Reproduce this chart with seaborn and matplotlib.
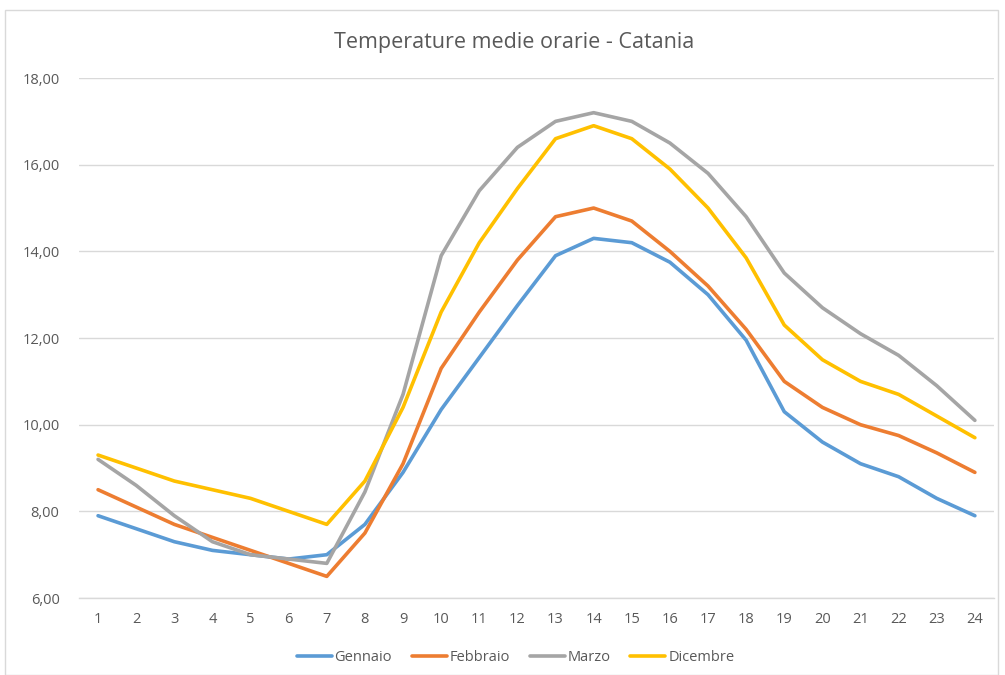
import matplotlib
matplotlib.use("Agg")
import matplotlib.pyplot as plt
import matplotlib.ticker as mticker
import seaborn as sns
import pandas as pd

ore = list(range(1, 25))
gennaio = [7.9, 7.6, 7.3, 7.1, 7.0, 6.9, 7.0, 7.7, 8.9, 10.35, 11.55, 12.75, 13.9, 14.3, 14.2, 13.75,
           13.0, 11.95, 10.3, 9.6, 9.1, 8.8, 8.3, 7.9]
febbraio = [8.5, 8.1, 7.7, 7.4, 7.1, 6.8, 6.5, 7.5, 9.1, 11.3, 12.6, 13.8, 14.8, 15.0, 14.7, 14.0,
            13.2, 12.2, 11.0, 10.4, 10.0, 9.75, 9.35, 8.9]
marzo = [9.2, 8.6, 7.9, 7.3, 7.0, 6.9, 6.8, 8.45, 10.7, 13.9, 15.4, 16.4, 17.0, 17.2, 17.0, 16.5,
         15.8, 14.8, 13.5, 12.7, 12.1, 11.6, 10.9, 10.1]
dicembre = [9.3, 9.0, 8.7, 8.5, 8.3, 8.0, 7.7, 8.7, 10.4, 12.6, 14.2, 15.45, 16.6, 16.9, 16.6, 15.9,
            15.0, 13.85, 12.3, 11.5, 11.0, 10.7, 10.2, 9.7]
mesi = ["Gennaio", "Febbraio", "Marzo", "Dicembre"]
colori = ["#5B9BD5", "#ED7D31", "#A5A5A5", "#FFC000"]

# tabella in formato lungo per seaborn
df = pd.DataFrame({
    "ora": ore * 4,
    "temp": gennaio + febbraio + marzo + dicembre,
    "mese": [m for m in mesi for _ in ore],
})

sns.set_theme(style="white")
plt.rcParams['font.family'] = ['Open Sans', 'DejaVu Sans']

fig = plt.figure(figsize=(10.05, 6.75), dpi=100)
ax = fig.add_axes([0.0786, 0.114, 0.9104, 0.7704])

sns.lineplot(data=df, x="ora", y="temp", hue="mese", hue_order=mesi,
             palette=colori, linewidth=2.6, ax=ax)

ax.set_xlim(0.5, 24.5)
ax.set_ylim(6, 18)
ax.set_xticks(ore)
ax.set_yticks(range(6, 19, 2))
ax.yaxis.set_major_formatter(mticker.FuncFormatter(lambda v, p: f"{v:.2f}".replace(".", ",")))
ax.grid(axis="y", color="#D9D9D9", linewidth=1)
ax.set_axisbelow(True)
for s in ["top", "right", "left"]:
    ax.spines[s].set_visible(False)
ax.spines["bottom"].set_color("#D9D9D9")
ax.spines["bottom"].set_linewidth(1)
ax.tick_params(axis="both", length=0, colors="#595959", labelsize=10.5)
ax.tick_params(axis="x", pad=10)
ax.tick_params(axis="y", pad=14)
ax.set_xlabel("")
ax.set_ylabel("")

fig.text(0.512, 0.937, "Temperature medie orarie - Catania", ha="center", va="center",
         fontsize=15.5, color="#595959")

handles, labels = ax.get_legend_handles_labels()
ax.legend(handles, labels, loc="center", bbox_to_anchor=(0.477, -0.115), ncol=4,
          frameon=False, fontsize=10.5, labelcolor="#595959", handlelength=2.4,
          handletextpad=0.2, columnspacing=1.35)

# cornice grigia del grafico
fig.patches.append(plt.Rectangle((0.005, 0.0), 0.988, 0.985, transform=fig.transFigure,
                                 fill=False, edgecolor="#D9D9D9", linewidth=1))

fig.savefig("out.png", dpi=100)
